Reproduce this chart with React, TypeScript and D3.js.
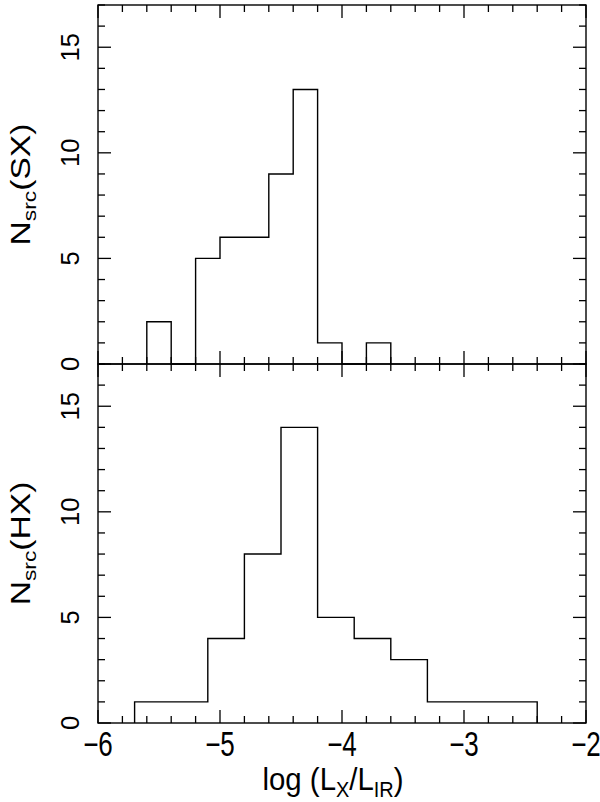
import React from "react";
import * as d3 from "d3";

// soft X-ray histogram: bins of 0.2 dex starting at -5.6
const sxStart = -5.6;
const sxWidth = 0.2;
const sxCounts = [2, 0, 5, 6, 6, 9, 13, 1, 0, 1];

// hard X-ray histogram: bins of 0.3 dex starting at -5.7
const hxStart = -5.7;
const hxWidth = 0.3;
const hxCounts = [1, 1, 4, 8, 14, 5, 4, 3, 1, 1, 1];

const xTicks = [-6, -5, -4, -3, -2];
const yTicks = [0, 5, 10, 15];

const W = 600;
const H = 802;
const left = 98;
const right = 586;
const top = 5;
const mid = 364;
const bottom = 723;
const font = "'Liberation Sans', Arial, Helvetica, sans-serif";

const x = d3.scaleLinear().domain([-6, -2]).range([left, right]);

const stepPath = (start: number, width: number, counts: number[], y: d3.ScaleLinear<number, number>) => {
  const pts: [number, number][] = [];
  counts.forEach((c, i) => {
    const x0 = start + i * width;
    pts.push([x(x0), y(i === 0 ? 0 : counts[i - 1])]);
    pts.push([x(x0), y(c)]);
  });
  const xe = start + counts.length * width;
  pts.push([x(xe), y(counts[counts.length - 1])]);
  pts.push([x(xe), y(0)]);
  return d3.line()(pts) || "";
};

const Panel = ({ y0, y1, start, width, counts, label }: any) => {
  const y = d3.scaleLinear().domain([0, 17]).range([y1, y0]);
  const ticks: JSX.Element[] = [];
  // x ticks every 0.2, major every 1
  d3.range(0, 21).forEach((i) => {
    const v = -6 + i * 0.2;
    const len = i % 5 === 0 ? 13 : 7;
    const px = x(v);
    ticks.push(<line key={"xb" + i} x1={px} x2={px} y1={y1} y2={y1 - len} />);
    ticks.push(<line key={"xt" + i} x1={px} x2={px} y1={y0} y2={y0 + len} />);
  });
  d3.range(0, 18).forEach((v) => {
    const len = v % 5 === 0 ? 13 : 7;
    const py = y(v);
    ticks.push(<line key={"yl" + v} x1={left} x2={left + len} y1={py} y2={py} />);
    ticks.push(<line key={"yr" + v} x1={right} x2={right - len} y1={py} y2={py} />);
  });
  const cy = (y0 + y1) / 2;
  return (
    <g>
      <g stroke="#000" strokeWidth={1.3}>{ticks}</g>
      <rect x={left} y={y0} width={right - left} height={y1 - y0} fill="none" stroke="#000" strokeWidth={1.4} />
      <path d={stepPath(start, width, counts, y)} fill="none" stroke="#000" strokeWidth={1.4} />
      {yTicks.map((t) => (
        <text key={t} transform={`translate(79,${y(t)}) rotate(-90)`} textAnchor="middle" fontSize={25.5} fontFamily={font}>
          {t}
        </text>
      ))}
      <text transform={`translate(30,${cy}) rotate(-90) scale(1.2,1)`} textAnchor="middle" fontSize={28} fontFamily={font}>
        N<tspan fontSize={19} dy={6}>src</tspan>
        <tspan dy={-6}>({label})</tspan>
      </text>
    </g>
  );
};

export default function App() {
  return (
    <svg width={W} height={H} style={{ position: "absolute", left: 0, top: 0, background: "#fff" }}>
      <rect width={W} height={H} fill="#fff" />
      <Panel y0={top} y1={mid} start={sxStart} width={sxWidth} counts={sxCounts} label="SX" />
      <Panel y0={mid} y1={bottom} start={hxStart} width={hxWidth} counts={hxCounts} label="HX" />
      {xTicks.map((t) => (
        <text key={t} transform={`translate(${x(t)},756) scale(1,1.32)`} textAnchor="middle" fontSize={26} fontFamily={font}>
          {"\u2212" + Math.abs(t)}
        </text>
      ))}
      <text transform="translate(333,790) scale(1.05,1.15)" textAnchor="middle" fontSize={28} fontFamily={font}>
        log (L<tspan fontSize={19} dy={6}>X</tspan>
        <tspan dy={-6}>/L</tspan>
        <tspan fontSize={19} dy={6}>IR</tspan>
        <tspan dy={-6}>)</tspan>
      </text>
    </svg>
  );
}
